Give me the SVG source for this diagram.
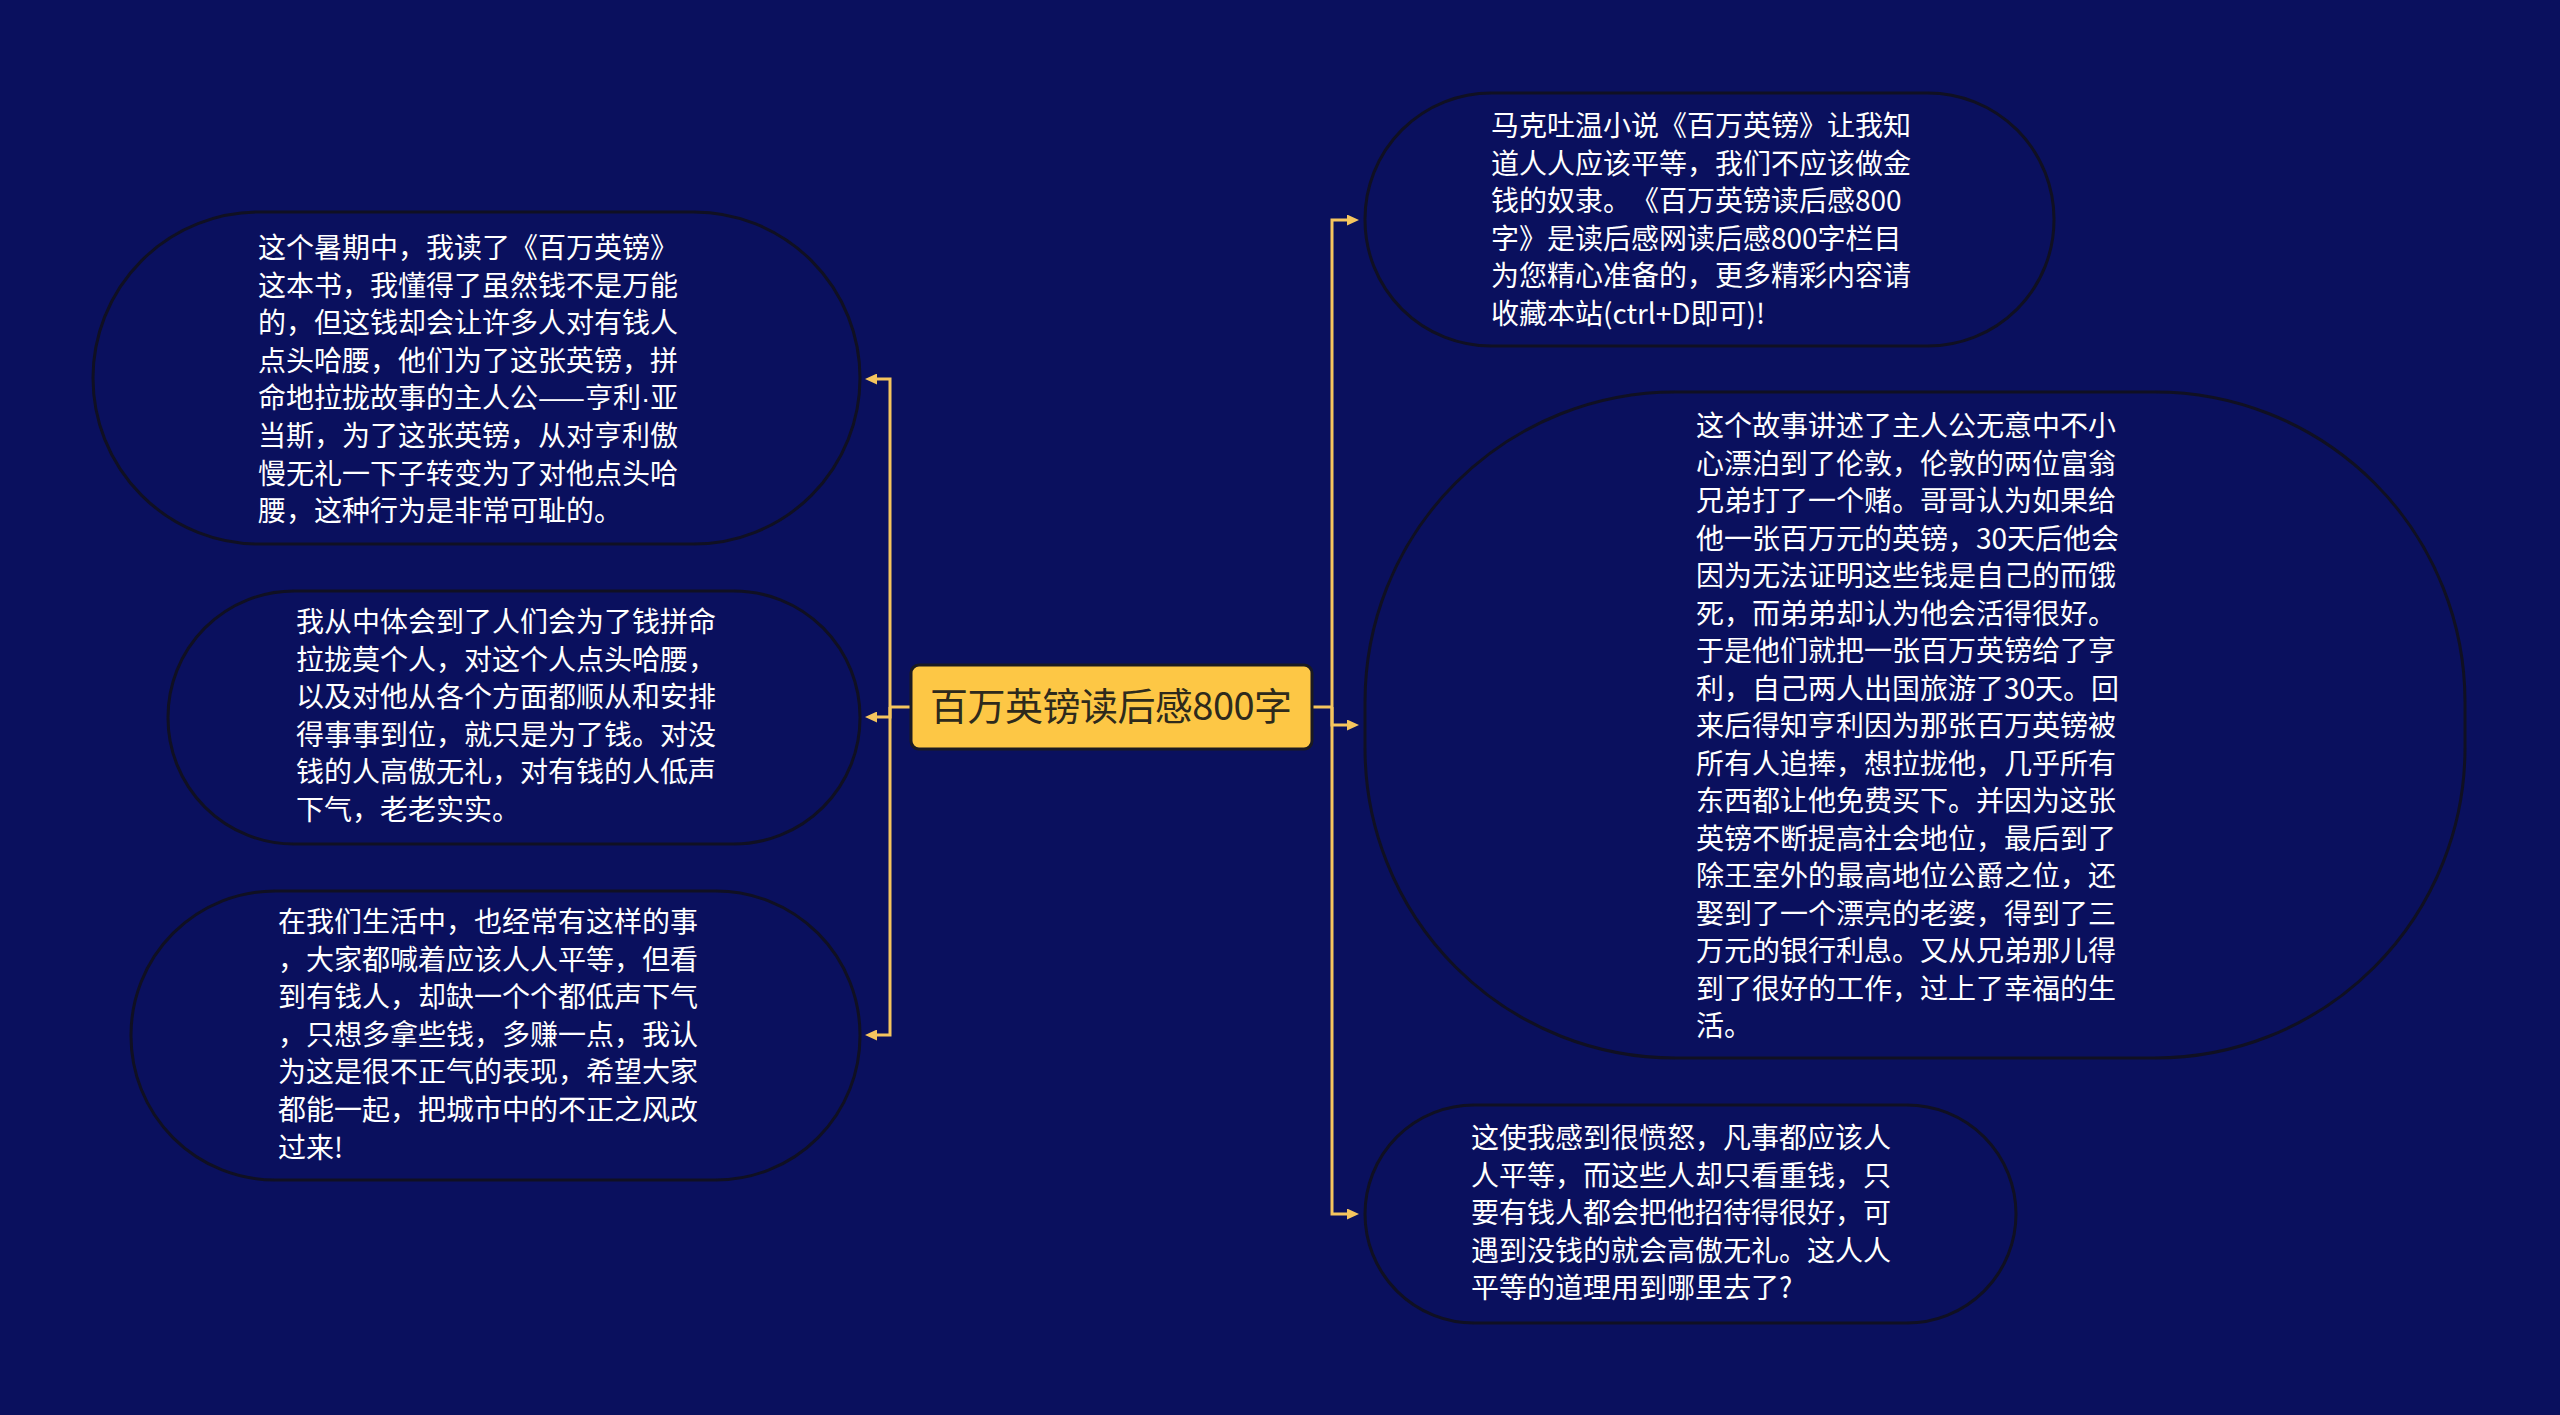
<svg xmlns="http://www.w3.org/2000/svg" width="2560" height="1415" viewBox="0 0 2560 1415">
  <defs>
    <style>
      .bg { fill: #0A105E; }
      .node { fill: #0A105E; stroke: #101022; stroke-width: 3; }
      .root { fill: #FDC745; stroke: #1A1A22; stroke-width: 3; }
      .txt { font-family: "Noto Sans CJK SC", "Noto Sans", sans-serif; font-size: 28px; fill: #FFFFFF; text-spacing-trim: space-all; }
      .rtxt { font-family: "Noto Sans CJK SC", "Noto Sans", sans-serif; font-size: 38px; fill: #2E2A1C; }
      .lat { font-family: "Liberation Sans", sans-serif; }
      .conn { fill: none; stroke: #F5C55E; stroke-width: 3; }
    </style>
    <marker id="arr" markerUnits="userSpaceOnUse" markerWidth="12" markerHeight="11" viewBox="0 0 12 11" refX="0" refY="5.5" orient="auto">
      <path d="M0,0 L12,5.5 L0,11 z" fill="#F5C55E"/>
    </marker>
  </defs>

  <rect class="bg" x="0" y="0" width="2560" height="1415"/>

  <g id="connectors">
    <path class="conn" d="M911,707 H890"/>
    <path class="conn" d="M890,707 V379 H877" marker-end="url(#arr)"/>
    <path class="conn" d="M890,707 V717 H877" marker-end="url(#arr)"/>
    <path class="conn" d="M890,707 V1035 H877" marker-end="url(#arr)"/>
    <path class="conn" d="M1312,707 H1332"/>
    <path class="conn" d="M1332,707 V220 H1347" marker-end="url(#arr)"/>
    <path class="conn" d="M1332,707 V725 H1347" marker-end="url(#arr)"/>
    <path class="conn" d="M1332,707 V1214 H1347" marker-end="url(#arr)"/>
  </g>

  <g id="root">
    <rect class="root" x="911" y="665" width="401" height="84" rx="8"/>
    <text class="rtxt" x="930" y="720" textLength="362" lengthAdjust="spacing">百万英镑读后感800字</text>
  </g>

  <g id="node-l1">
    <rect class="node" x="93" y="212" width="767" height="332" rx="166" ry="166"/>
    <text class="txt">
      <tspan x="258" y="258">这个暑期中，我读了《百万英镑》</tspan>
      <tspan x="258" dy="37.6">这本书，我懂得了虽然钱不是万能</tspan>
      <tspan x="258" dy="37.6">的，但这钱却会让许多人对有钱人</tspan>
      <tspan x="258" dy="37.6">点头哈腰，他们为了这张英镑，拼</tspan>
      <tspan x="258" dy="37.6">命地拉拢故事的主人公——亨利<tspan class="lat">·</tspan>亚</tspan>
      <tspan x="258" dy="37.6">当斯，为了这张英镑，从对亨利傲</tspan>
      <tspan x="258" dy="37.6">慢无礼一下子转变为了对他点头哈</tspan>
      <tspan x="258" dy="37.6">腰，这种行为是非常可耻的。</tspan>
    </text>
  </g>

  <g id="node-l2">
    <rect class="node" x="168" y="591" width="692" height="253" rx="126" ry="126"/>
    <text class="txt">
      <tspan x="296" y="632">我从中体会到了人们会为了钱拼命</tspan>
      <tspan x="296" dy="37.6">拉拢莫个人，对这个人点头哈腰，</tspan>
      <tspan x="296" dy="37.6">以及对他从各个方面都顺从和安排</tspan>
      <tspan x="296" dy="37.6">得事事到位，就只是为了钱。对没</tspan>
      <tspan x="296" dy="37.6">钱的人高傲无礼，对有钱的人低声</tspan>
      <tspan x="296" dy="37.6">下气，老老实实。</tspan>
    </text>
  </g>

  <g id="node-l3">
    <rect class="node" x="131" y="891" width="729" height="289" rx="144" ry="144"/>
    <text class="txt">
      <tspan x="278" y="932">在我们生活中，也经常有这样的事</tspan>
      <tspan x="278" dy="37.6">，大家都喊着应该人人平等，但看</tspan>
      <tspan x="278" dy="37.6">到有钱人，却缺一个个都低声下气</tspan>
      <tspan x="278" dy="37.6">，只想多拿些钱，多赚一点，我认</tspan>
      <tspan x="278" dy="37.6">为这是很不正气的表现，希望大家</tspan>
      <tspan x="278" dy="37.6">都能一起，把城市中的不正之风改</tspan>
      <tspan x="278" dy="37.6">过来!</tspan>
    </text>
  </g>

  <g id="node-r1">
    <rect class="node" x="1365" y="93" width="689" height="253" rx="126" ry="126"/>
    <text class="txt">
      <tspan x="1491" y="136">马克吐温小说《百万英镑》让我知</tspan>
      <tspan x="1491" dy="37.6">道人人应该平等，我们不应该做金</tspan>
      <tspan x="1491" dy="37.6">钱的奴隶。《百万英镑读后感800</tspan>
      <tspan x="1491" dy="37.6">字》是读后感网读后感800字栏目</tspan>
      <tspan x="1491" dy="37.6">为您精心准备的，更多精彩内容请</tspan>
      <tspan x="1491" dy="37.6">收藏本站(ctrl+D即可)!</tspan>
    </text>
  </g>

  <g id="node-r2">
    <rect class="node" x="1365" y="392" width="1100" height="666" rx="310" ry="310"/>
    <text class="txt">
      <tspan x="1696" y="436">这个故事讲述了主人公无意中不小</tspan>
      <tspan x="1696" dy="37.5">心漂泊到了伦敦，伦敦的两位富翁</tspan>
      <tspan x="1696" dy="37.5">兄弟打了一个赌。哥哥认为如果给</tspan>
      <tspan x="1696" dy="37.5">他一张百万元的英镑，30天后他会</tspan>
      <tspan x="1696" dy="37.5">因为无法证明这些钱是自己的而饿</tspan>
      <tspan x="1696" dy="37.5">死，而弟弟却认为他会活得很好。</tspan>
      <tspan x="1696" dy="37.5">于是他们就把一张百万英镑给了亨</tspan>
      <tspan x="1696" dy="37.5">利，自己两人出国旅游了30天。回</tspan>
      <tspan x="1696" dy="37.5">来后得知亨利因为那张百万英镑被</tspan>
      <tspan x="1696" dy="37.5">所有人追捧，想拉拢他，几乎所有</tspan>
      <tspan x="1696" dy="37.5">东西都让他免费买下。并因为这张</tspan>
      <tspan x="1696" dy="37.5">英镑不断提高社会地位，最后到了</tspan>
      <tspan x="1696" dy="37.5">除王室外的最高地位公爵之位，还</tspan>
      <tspan x="1696" dy="37.5">娶到了一个漂亮的老婆，得到了三</tspan>
      <tspan x="1696" dy="37.5">万元的银行利息。又从兄弟那儿得</tspan>
      <tspan x="1696" dy="37.5">到了很好的工作，过上了幸福的生</tspan>
      <tspan x="1696" dy="37.5">活。</tspan>
    </text>
  </g>

  <g id="node-r3">
    <rect class="node" x="1365" y="1105" width="651" height="218" rx="109" ry="109"/>
    <text class="txt">
      <tspan x="1471" y="1148">这使我感到很愤怒，凡事都应该人</tspan>
      <tspan x="1471" dy="37.6">人平等，而这些人却只看重钱，只</tspan>
      <tspan x="1471" dy="37.6">要有钱人都会把他招待得很好，可</tspan>
      <tspan x="1471" dy="37.6">遇到没钱的就会高傲无礼。这人人</tspan>
      <tspan x="1471" dy="37.6">平等的道理用到哪里去了?</tspan>
    </text>
  </g>
</svg>
